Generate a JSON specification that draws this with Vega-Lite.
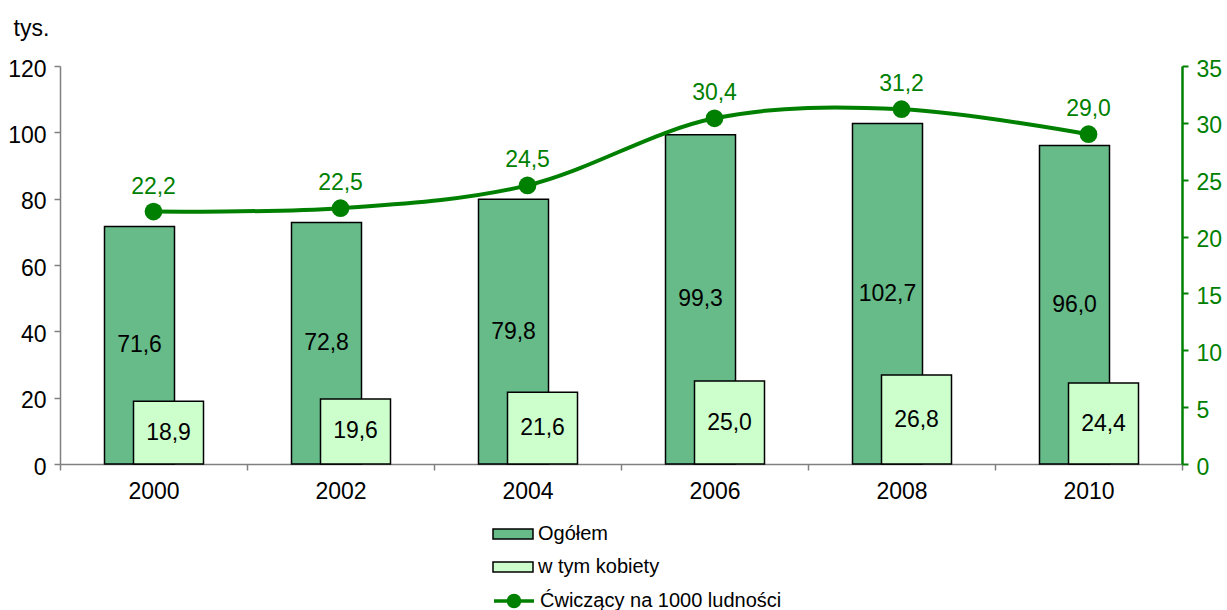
{
  "$schema": "https://vega.github.io/schema/vega-lite/v6.json",
  "width": 1122,
  "height": 398,
  "autosize": {"type": "none"},
  "padding": {"left": 60, "top": 66, "right": 45, "bottom": 146},
  "background": "white",
  "config": {
    "view": {"stroke": null},
    "font": "Liberation Sans",
    "locale": {"number": {"decimal": ",", "thousands": " ", "grouping": [3], "currency": ["", " zł"]}},
    "axis": {"labelFont": "Liberation Sans", "labelFontSize": 23, "labelColor": "black", "grid": false, "titleFont": "Liberation Sans"},
    "axisLeft": {"titleAngle": 0, "titleX": -47, "titleY": -38, "titleAlign": "left", "titleBaseline": "middle", "titleFontSize": 23, "titleFontWeight": "normal", "titleColor": "black", "domainColor": "#808080", "domainWidth": 1.5, "tickColor": "#808080", "tickWidth": 1.5, "tickSize": 6, "labelPadding": 8, "labelOffset": 3},
    "axisRight": {"labelColor": "#008000", "domainColor": "#008000", "domainWidth": 2.5, "tickColor": "#008000", "tickWidth": 2, "tickSize": 6, "labelPadding": 8, "labelOffset": 3},
    "legend": {"labelFont": "Liberation Sans", "labelFontSize": 20, "labelColor": "black", "labelLimit": 400}
  },
  "data": {
    "values": [
      {"year": "2000", "ogolem": 71.6, "kobiety": 18.9, "cwiczacy": 22.2},
      {"year": "2002", "ogolem": 72.8, "kobiety": 19.6, "cwiczacy": 22.5},
      {"year": "2004", "ogolem": 79.8, "kobiety": 21.6, "cwiczacy": 24.5},
      {"year": "2006", "ogolem": 99.3, "kobiety": 25.0, "cwiczacy": 30.4},
      {"year": "2008", "ogolem": 102.7, "kobiety": 26.8, "cwiczacy": 31.2},
      {"year": "2010", "ogolem": 96.0, "kobiety": 24.4, "cwiczacy": 29.0}
    ]
  },
  "layer": [
    {
      "layer": [
        {
          "mark": {"type": "bar", "width": 70, "xOffset": -14, "stroke": "black", "strokeWidth": 1.5, "opacity": 1},
          "encoding": {
            "x": {"field": "year", "type": "ordinal", "scale": {"paddingInner": 0, "paddingOuter": 0},
              "axis": {"title": null, "labelAngle": 0, "tickBand": "extent", "domainColor": "#808080", "domainWidth": 1.5, "tickColor": "#808080", "tickWidth": 1.5, "tickSize": 6, "labelPadding": 10}},
            "y": {"field": "ogolem", "type": "quantitative", "scale": {"domain": [0, 120], "nice": false},
              "axis": {"title": "tys.", "values": [0, 20, 40, 60, 80, 100, 120]}},
            "fill": {"datum": "Ogółem", "type": "nominal",
              "scale": {"domain": ["Ogółem", "w tym kobiety"], "range": ["#66bb88", "#ccffcc"]},
              "legend": {
                "title": null, "orient": "none", "direction": "vertical", "legendX": 442, "legendY": 457,
                "symbolSize": 400, "rowPadding": 12, "labelOffset": 14, "padding": 0,
                "labelExpr": "datum.value == 'Ogółem' ? datum.label : '\u2005' + datum.label",
                "symbolType": "M-2,-0.5H2V0.5H-2Z", "symbolStrokeColor": "black", "symbolStrokeWidth": 1.5, "symbolOpacity": 1
              }}
          }
        },
        {
          "mark": {"type": "bar", "width": 70, "xOffset": 15, "stroke": "black", "strokeWidth": 1.5, "opacity": 1},
          "encoding": {
            "x": {"field": "year", "type": "ordinal", "axis": {"title": null, "labelAngle": 0, "tickBand": "extent", "domainColor": "#808080", "domainWidth": 1.5, "tickColor": "#808080", "tickWidth": 1.5, "tickSize": 6, "labelPadding": 10}},
            "y": {"field": "kobiety", "type": "quantitative", "axis": {"title": "tys.", "values": [0, 20, 40, 60, 80, 100, 120]}},
            "fill": {"datum": "w tym kobiety", "type": "nominal"}
          }
        },
        {
          "transform": [{"calculate": "datum.ogolem / 2", "as": "ogolem_mid"}],
          "mark": {"type": "text", "xOffset": -14, "fontSize": 23, "color": "black", "baseline": "middle"},
          "encoding": {
            "x": {"field": "year", "type": "ordinal", "axis": {"title": null, "labelAngle": 0, "tickBand": "extent", "domainColor": "#808080", "domainWidth": 1.5, "tickColor": "#808080", "tickWidth": 1.5, "tickSize": 6, "labelPadding": 10}},
            "y": {"field": "ogolem_mid", "type": "quantitative", "axis": {"title": "tys.", "values": [0, 20, 40, 60, 80, 100, 120]}},
            "text": {"field": "ogolem", "type": "quantitative", "format": ".1f"}
          }
        },
        {
          "transform": [{"calculate": "datum.kobiety / 2", "as": "kobiety_mid"}],
          "mark": {"type": "text", "xOffset": 15, "fontSize": 23, "color": "black", "baseline": "middle"},
          "encoding": {
            "x": {"field": "year", "type": "ordinal", "axis": {"title": null, "labelAngle": 0, "tickBand": "extent", "domainColor": "#808080", "domainWidth": 1.5, "tickColor": "#808080", "tickWidth": 1.5, "tickSize": 6, "labelPadding": 10}},
            "y": {"field": "kobiety_mid", "type": "quantitative", "axis": {"title": "tys.", "values": [0, 20, 40, 60, 80, 100, 120]}},
            "text": {"field": "kobiety", "type": "quantitative", "format": ".1f"}
          }
        }
      ]
    },
    {
      "layer": [
        {
          "mark": {"type": "line", "interpolate": "cardinal", "strokeWidth": 4},
          "encoding": {
            "x": {"field": "year", "type": "ordinal", "axis": {"title": null, "labelAngle": 0, "tickBand": "extent", "domainColor": "#808080", "domainWidth": 1.5, "tickColor": "#808080", "tickWidth": 1.5, "tickSize": 6, "labelPadding": 10}},
            "y": {"field": "cwiczacy", "type": "quantitative", "scale": {"domain": [0, 35], "nice": false},
              "axis": {"orient": "right", "title": null, "values": [0, 5, 10, 15, 20, 25, 30, 35]}},
            "stroke": {"datum": "Ćwiczący na 1000 ludności", "type": "nominal",
              "scale": {"domain": ["Ćwiczący na 1000 ludności"], "range": ["#008000"]},
              "legend": {
                "title": null, "orient": "none", "direction": "vertical", "legendX": 442, "legendY": 523,
                "symbolSize": 400, "labelOffset": 14, "padding": 0,
                "symbolType": "M-2,0H2M-0.55,0A0.55,0.55,0,1,1,0.55,0A0.55,0.55,0,1,1,-0.55,0Z",
                "symbolFillColor": "#008000", "symbolStrokeWidth": 3.5, "symbolOpacity": 1
              }}
          }
        },
        {
          "mark": {"type": "point", "filled": true, "size": 314, "color": "#008000", "opacity": 1},
          "encoding": {
            "x": {"field": "year", "type": "ordinal", "axis": {"title": null, "labelAngle": 0, "tickBand": "extent", "domainColor": "#808080", "domainWidth": 1.5, "tickColor": "#808080", "tickWidth": 1.5, "tickSize": 6, "labelPadding": 10}},
            "y": {"field": "cwiczacy", "type": "quantitative", "axis": {"orient": "right", "title": null, "values": [0, 5, 10, 15, 20, 25, 30, 35]}}
          }
        },
        {
          "mark": {"type": "text", "fontSize": 23, "color": "#008000", "dy": -25, "baseline": "middle"},
          "encoding": {
            "x": {"field": "year", "type": "ordinal", "axis": {"title": null, "labelAngle": 0, "tickBand": "extent", "domainColor": "#808080", "domainWidth": 1.5, "tickColor": "#808080", "tickWidth": 1.5, "tickSize": 6, "labelPadding": 10}},
            "y": {"field": "cwiczacy", "type": "quantitative", "axis": {"orient": "right", "title": null, "values": [0, 5, 10, 15, 20, 25, 30, 35]}},
            "text": {"field": "cwiczacy", "type": "quantitative", "format": ".1f"}
          }
        }
      ]
    }
  ],
  "resolve": {"scale": {"y": "independent"}}
}
